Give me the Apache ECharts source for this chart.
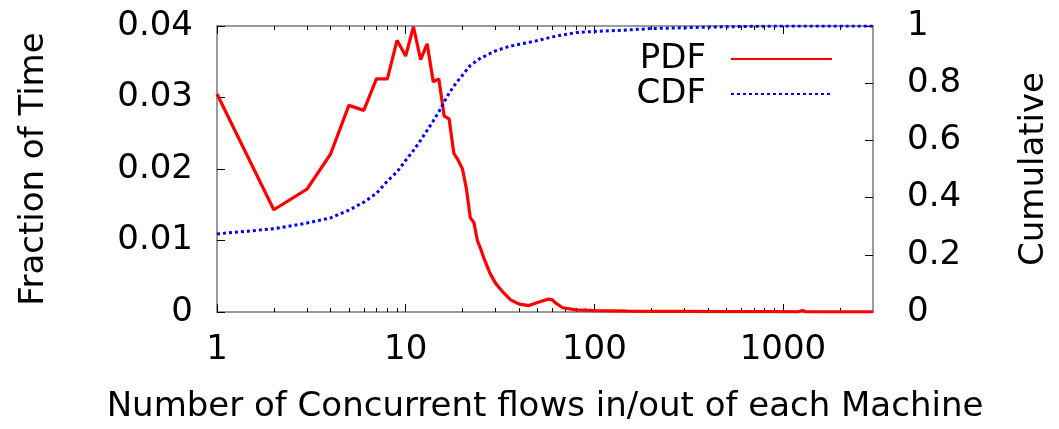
<!DOCTYPE html>
<html>
<head>
<meta charset="utf-8">
<script src="https://cdn.jsdelivr.net/npm/echarts@6/dist/echarts.min.js"></script>
<style>
html,body{margin:0;padding:0;background:#fff;}
#chart{width:1059px;height:429px;}
</style>
</head>
<body>
<div id="chart"></div>
<script>
// Data
const pdfX = [1,2,3,4,5,6,7,8,9,10,11,12,13,14,15,16,17,18,19,20,21,22,23,24,25,26,28,30,33,36,40,45,51,57,60,62,68,80,100,150,200,300,500,800,1200,1270,1320,2000,3000];
const pdfY = [0.0305,0.0143,0.0172,0.0221,0.0289,0.0282,0.0326,0.0326,0.0380,0.0358,0.0399,0.0353,0.0375,0.0322,0.0326,0.0274,0.0270,0.0222,0.0212,0.0200,0.0172,0.0132,0.0125,0.0100,0.0088,0.0075,0.0054,0.0040,0.0027,0.0017,0.0011,0.0009,0.0014,0.0018,0.0017,0.0013,0.0006,0.0003,0.0002,0.00012,0.0001,0.00008,0.00005,0.00004,0.00003,0.0002,0.00003,0.00002,0.00002];
const cdfX = [1,2,3,4,5,6,7,8,9,10,11,12,13,14,15,16,17,18,19,20,22,25,30,35,40,50,60,80,100,150,200,400,700,1000,3000];
const cdfY = [0.273,0.291,0.311,0.329,0.356,0.384,0.415,0.458,0.490,0.530,0.565,0.600,0.635,0.668,0.700,0.735,0.765,0.790,0.810,0.828,0.862,0.888,0.913,0.928,0.936,0.949,0.962,0.977,0.981,0.986,0.991,0.996,0.999,1.0,1.0];
const xMajorTicks = [1,10,100,1000];
const xMinorTicks = [2,3,4,5,6,7,8,9,20,30,40,50,60,70,80,90,200,300,400,500,600,700,800,900,2000];
const xMin = 1, xMax = 3000;
const seriesNames = ['PDF','CDF'];
const xTitle = 'Number of Concurrent flows in/out of each Machine';
const yLeftTitle = 'Fraction of Time';
const yRightTitle = 'Cumulative';

const FONT = '"DejaVu Sans", sans-serif';
const FS = 34;
const borderColor = '#7a7a7a';

function xAxisDef(pos, ticks, len, showLine, showLabel) {
  return {
    type: 'log', logBase: 10, min: xMin, max: xMax, position: pos,
    axisLine: {show: showLine, onZero: false, lineStyle: {color: borderColor, width: 1.5}},
    axisTick: {show: true, inside: true, length: len, customValues: ticks, lineStyle: {color: '#000', width: 1}},
    axisLabel: showLabel ? {show: true, customValues: xMajorTicks, fontSize: FS, fontFamily: FONT, color: '#000', margin: 21,
      formatter: function (v) { return String(Math.round(v)); }} : {show: false},
    splitLine: {show: false},
    minorTick: {show: false}
  };
}

const xAxes = [
  Object.assign(xAxisDef('bottom', xMajorTicks, 8, true, true), {
    name: xTitle, nameLocation: 'middle', nameGap: 78,
    nameTextStyle: {fontSize: FS, fontFamily: FONT, color: '#000'}
  }),
  xAxisDef('bottom', xMinorTicks, 4, false, false),
  xAxisDef('top', xMajorTicks, 8, true, false),
  xAxisDef('top', xMinorTicks, 4, false, false)
];

const chart = echarts.init(document.getElementById('chart'), null, {renderer: 'canvas'});
chart.setOption({
  animation: false,
  backgroundColor: '#fff',
  grid: {left: 217, right: 181, top: 26, bottom: 113, containLabel: false},
  legend: {
    data: seriesNames,
    orient: 'vertical', align: 'right',
    right: 226, top: 42, padding: 0,
    itemWidth: 101, itemHeight: 14, itemGap: 1,
    itemStyle: {opacity: 0},
    textStyle: {fontSize: FS, fontFamily: FONT, color: '#000', padding: [0, 20, 0, 0]}
  },
  xAxis: xAxes,
  yAxis: [
    {
      type: 'value', min: 0, max: 0.04, interval: 0.01, position: 'left',
      name: yLeftTitle, nameLocation: 'middle', nameGap: 166, nameRotate: 90,
      nameTextStyle: {fontSize: FS, fontFamily: FONT, color: '#000'},
      axisLine: {show: true, onZero: false, lineStyle: {color: borderColor, width: 1.5}},
      axisTick: {show: true, inside: true, length: 8, lineStyle: {color: '#000'}},
      axisLabel: {fontSize: FS, fontFamily: FONT, color: '#000', margin: 24, padding: [7, 0, 0, 0]},
      splitLine: {show: false}
    },
    {
      type: 'value', min: 0, max: 1, interval: 0.2, position: 'right',
      name: yRightTitle, nameLocation: 'middle', nameGap: 144, nameRotate: 90,
      nameTextStyle: {fontSize: FS, fontFamily: FONT, color: '#000'},
      axisLine: {show: true, onZero: false, lineStyle: {color: borderColor, width: 1.5}},
      axisTick: {show: true, inside: true, length: 8, lineStyle: {color: '#000'}},
      axisLabel: {fontSize: FS, fontFamily: FONT, color: '#000', margin: 34, padding: [7, 0, 0, 0]},
      splitLine: {show: false}
    }
  ],
  series: [
    {
      name: seriesNames[0], type: 'line', xAxisIndex: 0, yAxisIndex: 0,
      data: pdfX.map((x, i) => [x, pdfY[i]]),
      showSymbol: false, symbol: 'none',
      lineStyle: {color: '#ff0000', width: 3.2},
      itemStyle: {color: '#ff0000'},
      z: 2
    },
    {
      name: seriesNames[1], type: 'line', xAxisIndex: 0, yAxisIndex: 1,
      data: cdfX.map((x, i) => [x, cdfY[i]]),
      showSymbol: false, symbol: 'none',
      lineStyle: {color: '#0000ff', width: 3, type: [3, 3]},
      itemStyle: {color: '#0000ff'},
      z: 3
    }
  ]
});
</script>
</body>
</html>
